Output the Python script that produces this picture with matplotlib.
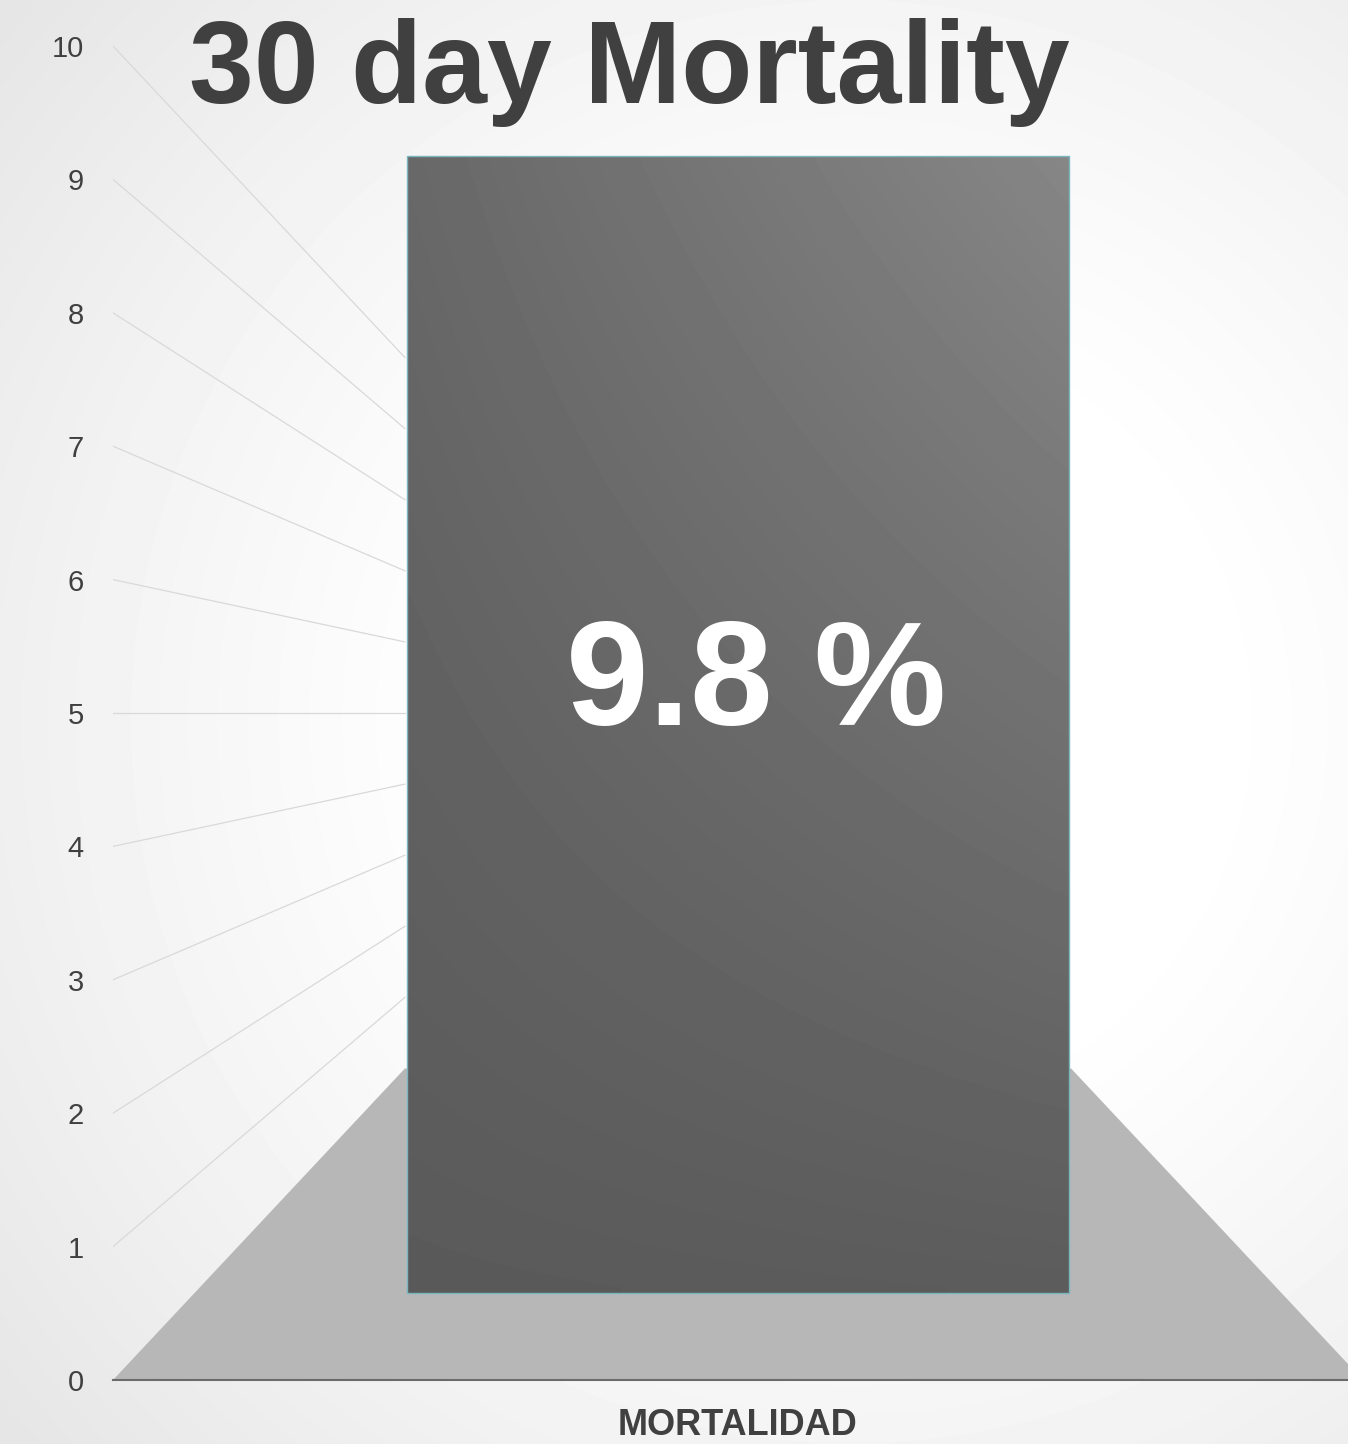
import matplotlib.pyplot as plt
import numpy as np
from matplotlib.patches import Polygon, Rectangle

categories = ["MORTALIDAD"]
values = [9.8]
value_ticks = list(range(0, 11))
title = "30 day Mortality"

W, H, DPI = 1348, 1444, 100

# fake 3D: everything shrinks toward (x=0, y=5) as depth goes 0 -> 1
BACK_SCALE = 0.533
VANISH_Y = 5.0
BAR_DEPTH = 0.28
BAR_WIDTH = 0.61


def project(u, v, d):
    s = 1 - d * (1 - BACK_SCALE)
    return u * s, VANISH_Y + (v - VANISH_Y) * s


plt.rcParams["font.family"] = ["Liberation Sans", "DejaVu Sans"]
fig = plt.figure(figsize=(W / DPI, H / DPI), dpi=DPI)

# soft radial background
bg = fig.add_axes([0, 0, 1, 1], zorder=-1)
yy, xx = np.mgrid[0:H:4, 0:W:4]
r = np.hypot(xx - 850, yy - 720)
t = np.clip((r - 350) / 750, 0, 1)
bg.imshow(1 - 0.1 * t ** 1.2, cmap="gray", vmin=0, vmax=1,
          extent=[0, 1, 0, 1], aspect="auto", interpolation="bilinear")
bg.axis("off")

ax = fig.add_axes([113 / W, 64 / H, 1235 / W, 1334 / H])
ax.set_facecolor("none")

# floor
floor = [project(-0.5, 0, 0), project(0.5, 0, 0),
         project(0.5, 0, 1), project(-0.5, 0, 1)]
ax.add_patch(Polygon(floor, closed=True, fc="#b7b7b7", ec="none", zorder=1))

# gridlines running along the left wall
for v in value_ticks[1:]:
    (x0, y0), (x1, y1) = project(-0.5, v, 0), project(-0.5, v, 1)
    ax.plot([x0, x1], [y0, y1], color="#d9d9d9", lw=0.9, zorder=1)

# bar shading: corners tl, tr, bl, br
gy, gx = np.mgrid[0:1:100j, 0:1:100j]
tl, tr, bl, br = 104, 134, 90, 92
shade = ((1 - gy) * ((1 - gx) * tl + gx * tr) + gy * ((1 - gx) * bl + gx * br)) / 255

for i, (cat, val) in enumerate(zip(categories, values)):
    x0, y0 = project(i - BAR_WIDTH / 2, 0, BAR_DEPTH)
    x1, y1 = project(i + BAR_WIDTH / 2, val, BAR_DEPTH)
    ax.imshow(shade, cmap="gray", vmin=0, vmax=1, extent=[x0, x1, y0, y1],
              origin="upper", interpolation="bilinear", aspect="auto", zorder=2)
    ax.add_patch(Rectangle((x0, y0), x1 - x0, y1 - y0, fc="none",
                           ec="#7ab6bd", lw=1.0, zorder=3))
    ax.annotate(f"{val:g} %", xy=((x0 + x1) / 2, (y0 + y1) / 2),
                xytext=(13, 0), textcoords="offset points",
                ha="center", va="baseline", color="white",
                fontsize=107, fontweight="bold", zorder=4)

ax.set_xlim(-0.5, -0.5 + 1235 / 1250)
ax.set_ylim(0, 10)

ax.set_yticks(value_ticks)
ax.tick_params(axis="y", length=0, pad=21, labelsize=21, labelcolor="#404040")
ax.set_xticks(range(len(categories)))
ax.set_xticklabels(categories, fontsize=26, fontweight="bold", color="#404040")
ax.tick_params(axis="x", length=0, pad=20)

for side in ["top", "right", "left"]:
    ax.spines[side].set_visible(False)
ax.spines["bottom"].set_color("#6b6b6b")
ax.spines["bottom"].set_linewidth(1.5)
ax.spines["bottom"].set_zorder(5)

fig.text(629 / W, 1 - 103 / H, title, ha="center", va="baseline",
         fontsize=84, fontweight="bold", color="#404040")

fig.savefig("out.png", dpi=DPI)
